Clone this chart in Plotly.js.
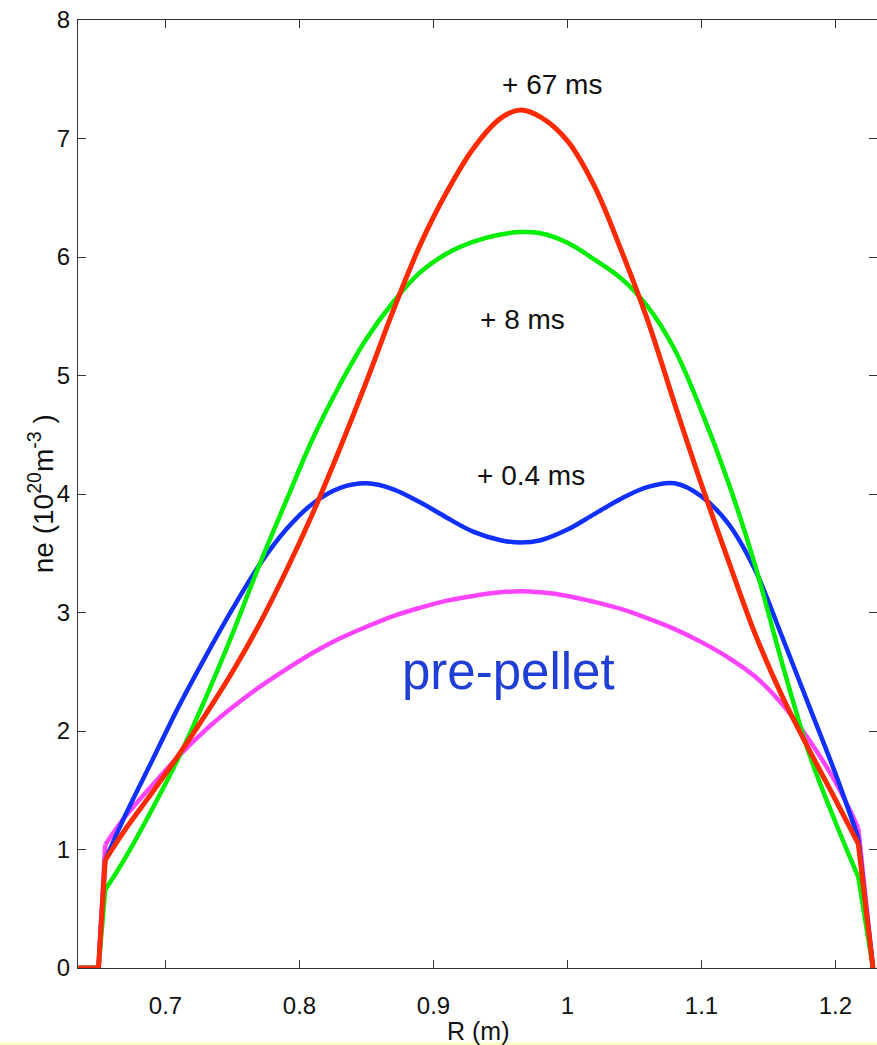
<!DOCTYPE html>
<html>
<head>
<meta charset="utf-8">
<script src="https://cdn.plot.ly/plotly-3.0.1.min.js"></script>
<style>html,body{margin:0;padding:0;background:#fff;}#plot{width:877px;height:1045px;}</style>
</head>
<body>
<div id="plot"></div>
<script>
// Radius grid (m)
const R = [0.635, 0.650, 0.655, 0.67, 0.69, 0.71, 0.73, 0.75, 0.77, 0.79, 0.81, 0.83, 0.85, 0.87, 0.89, 0.91, 0.93, 0.95, 0.965, 0.98, 1.00, 1.02, 1.04, 1.06, 1.08, 1.10, 1.12, 1.14, 1.16, 1.18, 1.20, 1.217, 1.228];

// Electron density (10^20 m^-3)
const prePellet = [0, 0, 1.04, 1.28, 1.54, 1.79, 2.01, 2.20, 2.37, 2.52, 2.66, 2.78, 2.88, 2.97, 3.04, 3.10, 3.14, 3.17, 3.18, 3.17, 3.14, 3.09, 3.03, 2.95, 2.86, 2.75, 2.62, 2.46, 2.23, 1.93, 1.57, 1.18, 0];
const ms04 = [0, 0, 0.91, 1.29, 1.75, 2.21, 2.63, 3.03, 3.40, 3.70, 3.92, 4.05, 4.09, 4.04, 3.93, 3.80, 3.68, 3.61, 3.59, 3.61, 3.70, 3.83, 3.96, 4.06, 4.09, 3.98, 3.75, 3.36, 2.80, 2.22, 1.64, 1.10, 0];
const ms8 = [0, 0, 0.66, 0.93, 1.34, 1.78, 2.28, 2.82, 3.40, 3.94, 4.47, 4.92, 5.31, 5.62, 5.87, 6.03, 6.13, 6.19, 6.21, 6.20, 6.12, 5.98, 5.82, 5.58, 5.22, 4.70, 4.10, 3.40, 2.58, 1.82, 1.23, 0.77, 0];
const ms67 = [0, 0, 0.91, 1.17, 1.48, 1.80, 2.14, 2.50, 2.90, 3.35, 3.84, 4.38, 4.95, 5.55, 6.10, 6.55, 6.92, 7.17, 7.24, 7.18, 6.98, 6.60, 6.06, 5.46, 4.76, 4.08, 3.44, 2.82, 2.30, 1.85, 1.42, 1.05, 0];

const seriesNames = ["pre-pellet", "+ 0.4 ms", "+ 8 ms", "+ 67 ms"];
const labelTexts = ["pre-pellet", "+ 0.4 ms", "+ 8 ms", "+ 67 ms"];
const labelR = [0.9563, 0.9728, 0.9668, 0.9888];
const labelNe = [2.50, 4.16, 5.47, 7.455];

const xTickVals = [0.7, 0.8, 0.9, 1.0, 1.1, 1.2];
const xTickText = ["0.7", "0.8", "0.9", "1", "1.1", "1.2"];
const yTickVals = [0, 1, 2, 3, 4, 5, 6, 7, 8];
const xTitle = "R (m)";
const yTitle = "ne (10<sup>20</sup>m<sup>-3</sup> )";

const colors = ["#ff44ff", "#1030ff", "#00ee00", "#ff2a00"];
const ys = [prePellet, ms04, ms8, ms67];

// index range of the smooth interior part of each profile
const iStart = 2, iEnd = R.length - 2;
const FONT = "Liberation Sans, Arial, sans-serif";

const traces = [];
ys.forEach((y, i) => {
  const w = i === 3 ? 5 : 4.5;
  // straight edge segments (plasma boundary drop to zero)
  traces.push({
    x: R.slice(0, iStart + 1).concat([null]).concat(R.slice(iEnd)),
    y: y.slice(0, iStart + 1).concat([null]).concat(y.slice(iEnd)),
    type: "scatter", mode: "lines", name: seriesNames[i], connectgaps: false,
    line: {color: colors[i], width: w, shape: "linear"}, hoverinfo: "skip"
  });
  // smooth interior profile
  traces.push({
    x: R.slice(iStart, iEnd + 1), y: y.slice(iStart, iEnd + 1),
    type: "scatter", mode: "lines", name: seriesNames[i],
    line: {color: colors[i], width: w, shape: "spline", smoothing: 1}, hoverinfo: "skip"
  });
});

const annotations = labelTexts.map((t, i) => ({
  x: labelR[i], y: labelNe[i], xref: "x", yref: "y", text: t, showarrow: false,
  xanchor: "center", yanchor: "middle",
  font: i === 0 ? {family: FONT, size: 51, color: "#1f3fd6"}
                : {family: FONT, size: 28, color: "#111"}
}));
// axis titles
annotations.push({
  x: 0.5, y: -0.066, xref: "paper", yref: "paper", text: xTitle, showarrow: false,
  xanchor: "center", yanchor: "middle", font: {family: FONT, size: 25, color: "#111"}
});
annotations.push({
  x: -0.046, y: 0.5, xref: "paper", yref: "paper", text: yTitle, showarrow: false,
  textangle: -90, xanchor: "center", yanchor: "middle", font: {family: FONT, size: 28, color: "#111"}
});

const axisCommon = {
  showgrid: false, zeroline: false, showline: true, linecolor: "#333", linewidth: 1,
  mirror: "ticks", ticks: "inside", ticklen: 8, tickcolor: "#333", tickwidth: 1,
  automargin: false,
  tickfont: {family: FONT, size: 24, color: "#111"}
};

const layout = {
  width: 877, height: 1045,
  margin: {l: 78, r: 0, t: 20, b: 77},
  paper_bgcolor: "#fff", plot_bgcolor: "#fff",
  showlegend: false,
  xaxis: Object.assign({}, axisCommon, {
    range: [0.6347, 1.2310], tickvals: xTickVals, ticktext: xTickText,
    ticklabelstandoff: 16
  }),
  yaxis: Object.assign({}, axisCommon, {
    range: [0, 8], tickvals: yTickVals,
    ticklabelstandoff: 2
  }),
  annotations: annotations,
  shapes: [{
    type: "rect", xref: "paper", yref: "paper", x0: -0.1, x1: 1.1,
    y0: -0.0812, y1: -0.0781, fillcolor: "#ffffcc", line: {width: 0}, layer: "below"
  }]
};

Plotly.newPlot("plot", traces, layout, {displayModeBar: false, staticPlot: true});
</script>
</body>
</html>
